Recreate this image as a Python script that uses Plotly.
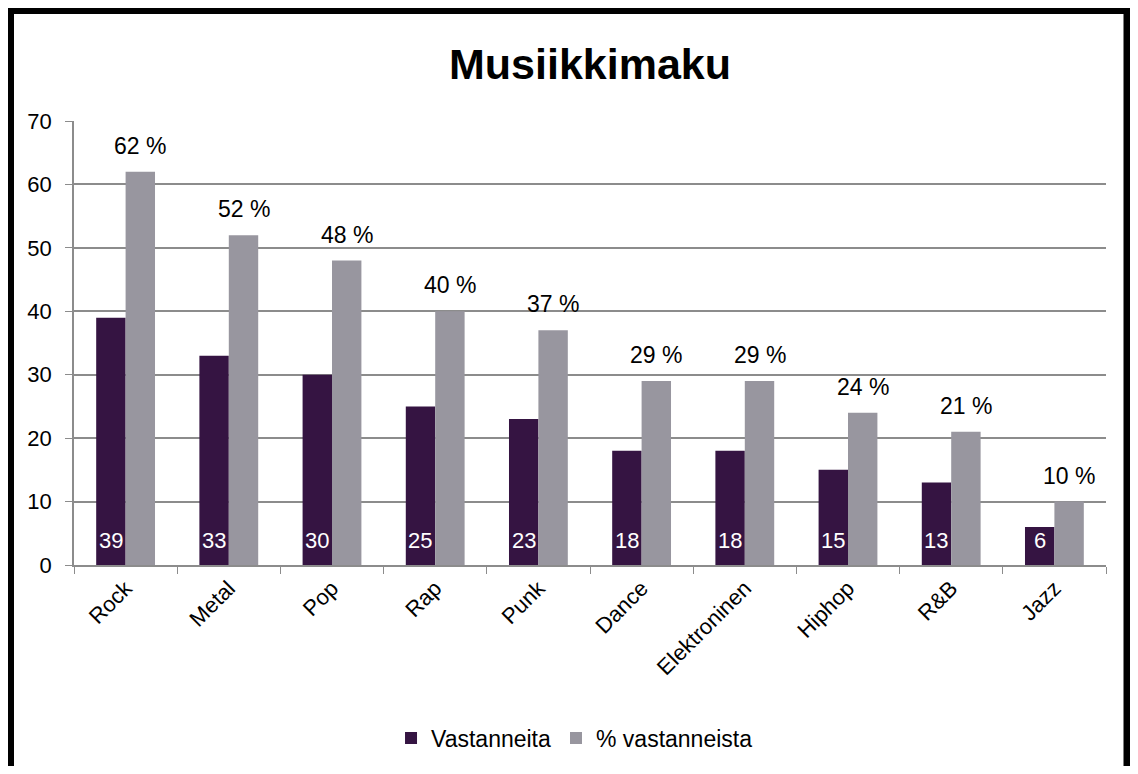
import plotly.graph_objects as go

# genre poll: respondents and share of respondents
genres = ['Rock', 'Metal', 'Pop', 'Rap', 'Punk', 'Dance', 'Elektroninen', 'Hiphop', 'R&B', 'Jazz']
vastanneita = [39, 33, 30, 25, 23, 18, 18, 15, 13, 6]
prosentti = [62, 52, 48, 40, 37, 29, 29, 24, 21, 10]

PURPLE = '#351442'
GREY = '#98969f'
FONT = 'Liberation Sans, Arial, sans-serif'

# the page body adds an 8px margin all round, so the figure is made to fit
# inside it; pixel positions below are page positions shifted by OFF
OFF = 8
W, H = 1138 - 2 * OFF, 774 - 2 * OFF
L, T = 74 - OFF, 121 - OFF
R, B = W - (1106 - OFF), H - (565 - OFF)
pw, ph = W - L - R, H - T - B


def px_x(x):
    return (x - OFF - L) / pw


def px_y(y):
    return (H - B - (y - OFF)) / ph


fig = go.Figure()
fig.add_trace(go.Bar(x=genres, y=vastanneita, name='Vastanneita',
                     marker=dict(color=PURPLE, line=dict(width=0))))
fig.add_trace(go.Bar(x=genres, y=prosentti, name='% vastanneista',
                     marker=dict(color=GREY, line=dict(width=0))))

half = pw / len(genres) * (1 - 0.43) / 4
annotations = []
for g, v, p in zip(genres, vastanneita, prosentti):
    annotations.append(dict(x=g, y=0, text=str(v), showarrow=False, xshift=-half,
                            yanchor='bottom', yshift=10,
                            font=dict(family=FONT, size=22, color='white')))
    annotations.append(dict(x=g, y=p, text='%d %%' % p, showarrow=False, xshift=half,
                            yanchor='bottom', yshift=11,
                            font=dict(family=FONT, size=23, color='black')))

fig.update_layout(
    width=W, height=H,
    margin=dict(l=L, r=R, t=T, b=B, autoexpand=False),
    paper_bgcolor='white', plot_bgcolor='white',
    barmode='group', bargap=0.43, bargroupgap=0,
    font=dict(family=FONT, size=22, color='black'),
    title=dict(text='<b>Musiikkimaku</b>', x=0.5, xref='paper', xanchor='center',
               y=1 - (64 - OFF) / H, yref='container', yanchor='middle',
               font=dict(family=FONT, size=43, color='black')),
    legend=dict(orientation='h', x=0.485, xanchor='center',
                y=1 - (738 - OFF) / H, yref='container', yanchor='middle',
                font=dict(family=FONT, size=23), itemwidth=30, traceorder='normal'),
    annotations=annotations,
    shapes=[
        dict(type='rect', xref='paper', yref='paper',
             x0=px_x(10.5), x1=px_x(1127), y0=px_y(800), y1=px_y(10.5),
             line=dict(color='black', width=7), layer='above'),
    ],
)
fig.update_xaxes(tickangle=-45, showline=True, linecolor='#8c8c8c', linewidth=1.5,
                 ticks='outside', tickson='boundaries', ticklen=7, tickcolor='#8c8c8c',
                 tickfont=dict(family=FONT, size=22), showgrid=False)
fig.update_yaxes(range=[0, 70], dtick=10, showline=True, linecolor='#8c8c8c', linewidth=1.5,
                 ticks='outside', ticklen=7, tickcolor='#8c8c8c',
                 gridcolor='#8c8c8c', gridwidth=1.5, zeroline=False,
                 tickfont=dict(family=FONT, size=22), ticklabelstandoff=9)

fig.write_html('out.html')
